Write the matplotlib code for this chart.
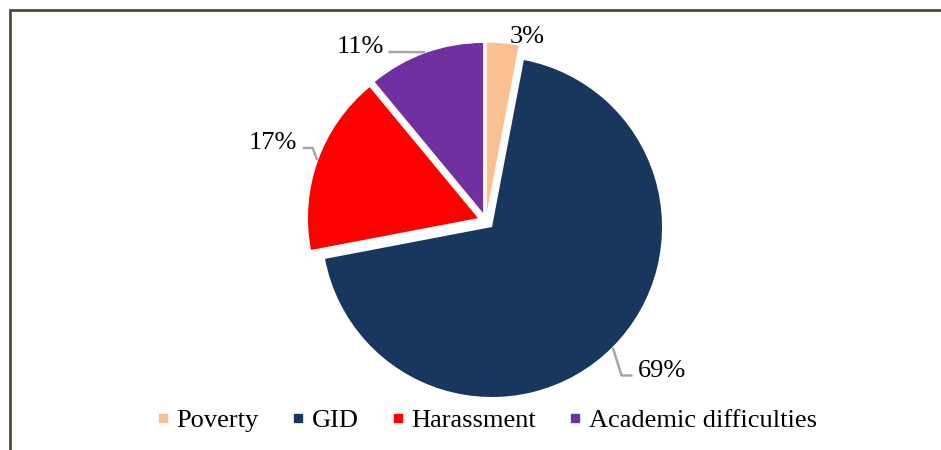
import numpy as np
import matplotlib.pyplot as plt
from matplotlib.lines import Line2D
from matplotlib.patches import Rectangle

plt.rcParams['font.family'] = ['Liberation Serif', 'DejaVu Serif']

# data
categories = ["Poverty", "GID", "Harassment", "Academic difficulties"]
shares = [3, 69, 17, 11]
colors = ["#FAC090", "#17375E", "#FF0000", "#7030A0"]

W, H = 941, 450
fig = plt.figure(figsize=(W / 100, H / 100), dpi=100)

# axes placed so that radius 1 ~ 170 px, centre at (486, 221) px from top
R = 170
lim = 1.5
half = lim * R
cx, cy = 486, H - 221
ax = fig.add_axes([(cx - half) / W, (cy - half) / H, 2 * half / W, 2 * half / H])

explode = [0.05, 0.05, 0.05, 0.05]
wedges, _ = ax.pie(shares, colors=colors, startangle=90, counterclock=False,
                   explode=explode, radius=1.0, wedgeprops=dict(linewidth=0))
# pie() resets the limits, so set them afterwards
ax.set_xlim(-lim, lim)
ax.set_ylim(-lim, lim)
ax.set_aspect("equal")
ax.axis("off")

# label positions: (radius, angle in degrees clockwise from top)
label_pos = {0: (1.109, 12.5), 1: (1.36, 130.6), 2: (1.336, -69.9), 3: (1.262, -35.8)}
# leader line start / elbow, as px offsets from the label anchor
leader = {1: [(-29, -4), (-40, -4)], 2: [(30, -5), (40, -5)], 3: [(28, -5), (42, -5)]}
lead = "#A6A6A6"
for i, w in enumerate(wedges):
    r, a = label_pos[i]
    t = np.deg2rad(a)
    lx, ly = r * np.sin(t), r * np.cos(t)
    ax.text(lx, ly, f"{shares[i]}%", ha="center", va="center", fontsize=19)
    if i not in leader:
        continue
    mid = np.deg2rad((w.theta1 + w.theta2) / 2)
    rr = 1 + explode[i] + 0.005
    xs = [lx + dx / R for dx, dy in leader[i]] + [rr * np.cos(mid)]
    ys = [ly + dy / R for dx, dy in leader[i]] + [rr * np.sin(mid)]
    ax.plot(xs, ys, color=lead, lw=1.8, clip_on=False, solid_capstyle="butt")

handles = [Line2D([], [], marker="s", linestyle="none", markersize=6,
                  markerfacecolor=c, markeredgecolor=c) for c in colors]
fig.legend(handles, categories, loc="center", bbox_to_anchor=(486 / W, 1 - 420 / H),
           ncol=4, frameon=False, fontsize=19, handlelength=0.6, handletextpad=0.2,
           columnspacing=1.2)

# outer frame (top and left edges visible, the rest runs off the image)
frame = Rectangle((10 / W, -0.1), 1.2, 1 - 10 / H + 0.1, transform=fig.transFigure,
                  fill=False, edgecolor="#4F4B32", linewidth=2, clip_on=False)
fig.patches.append(frame)

fig.savefig("out.png", dpi=100)
